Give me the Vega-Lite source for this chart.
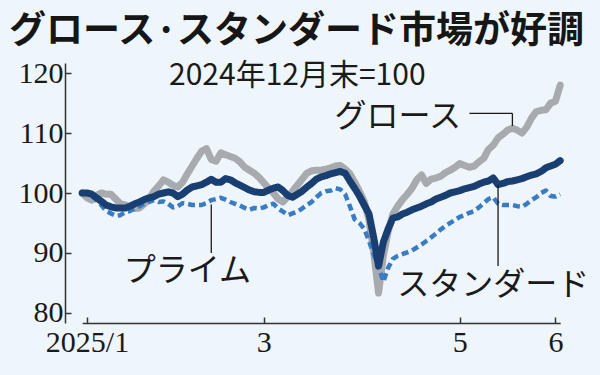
{
  "$schema": "https://vega.github.io/schema/vega-lite/v6.json",
  "width": 517,
  "height": 260,
  "autosize": {"type": "none"},
  "padding": {"left": 65, "top": 63, "right": 18, "bottom": 52},
  "background": "#eef5fb",
  "config": {"view": {"stroke": null}, "font": "Noto Sans CJK JP"},
  "title": {
    "text": "グロース·スタンダード市場が好調",
    "anchor": "start",
    "frame": "group",
    "dx": -56,
    "offset": 7,
    "font": "Noto Sans CJK JP",
    "fontSize": 37,
    "fontWeight": "bold",
    "color": "#161616"
  },
  "datasets": {
    "series": [
      {"date": "2024-12-30", "growth": 100, "prime": 100, "standard": 100},
      {"date": "2025-01-06", "growth": 99.2, "prime": 100, "standard": 100},
      {"date": "2025-01-07", "growth": 98.8, "prime": 99.5, "standard": 99.8},
      {"date": "2025-01-08", "growth": 99.6, "prime": 98.8, "standard": 99.2},
      {"date": "2025-01-09", "growth": 100, "prime": 98, "standard": 98.6},
      {"date": "2025-01-10", "growth": 99.8, "prime": 97, "standard": 98},
      {"date": "2025-01-14", "growth": 99.8, "prime": 96.6, "standard": 97.7},
      {"date": "2025-01-15", "growth": 99, "prime": 96.2, "standard": 97.5},
      {"date": "2025-01-16", "growth": 98.2, "prime": 96.3, "standard": 97.5},
      {"date": "2025-01-17", "growth": 98, "prime": 96.8, "standard": 97.5},
      {"date": "2025-01-20", "growth": 97.6, "prime": 97, "standard": 97.8},
      {"date": "2025-01-21", "growth": 97.4, "prime": 97.4, "standard": 98.2},
      {"date": "2025-01-22", "growth": 97.5, "prime": 97.8, "standard": 98.5},
      {"date": "2025-01-23", "growth": 98.2, "prime": 98.2, "standard": 98.9},
      {"date": "2025-01-24", "growth": 99, "prime": 98.5, "standard": 99.2},
      {"date": "2025-01-27", "growth": 100.3, "prime": 98.8, "standard": 99.4},
      {"date": "2025-01-28", "growth": 101.2, "prime": 98.5, "standard": 99.8},
      {"date": "2025-01-29", "growth": 102.2, "prime": 98.6, "standard": 100},
      {"date": "2025-01-30", "growth": 101.8, "prime": 98.2, "standard": 100.2},
      {"date": "2025-01-31", "growth": 101.3, "prime": 97.6, "standard": 100},
      {"date": "2025-02-03", "growth": 101, "prime": 97.8, "standard": 99.4},
      {"date": "2025-02-04", "growth": 101.8, "prime": 98.3, "standard": 99.8},
      {"date": "2025-02-05", "growth": 103.2, "prime": 98.2, "standard": 100.5},
      {"date": "2025-02-06", "growth": 104.5, "prime": 98, "standard": 101},
      {"date": "2025-02-07", "growth": 105.8, "prime": 98, "standard": 101.2},
      {"date": "2025-02-10", "growth": 107, "prime": 98, "standard": 101.4},
      {"date": "2025-02-12", "growth": 107.4, "prime": 98.3, "standard": 101.8},
      {"date": "2025-02-13", "growth": 105.6, "prime": 98.8, "standard": 102.3},
      {"date": "2025-02-14", "growth": 105.3, "prime": 99, "standard": 101.8},
      {"date": "2025-02-17", "growth": 106.7, "prime": 99.2, "standard": 101.8},
      {"date": "2025-02-18", "growth": 106.4, "prime": 98.9, "standard": 102.4},
      {"date": "2025-02-19", "growth": 106.1, "prime": 98.5, "standard": 102.2},
      {"date": "2025-02-20", "growth": 105.8, "prime": 98.2, "standard": 101.7},
      {"date": "2025-02-21", "growth": 105.2, "prime": 97.9, "standard": 101.3},
      {"date": "2025-02-25", "growth": 104.3, "prime": 97.5, "standard": 100.9},
      {"date": "2025-02-26", "growth": 103.8, "prime": 97.2, "standard": 100.5},
      {"date": "2025-02-27", "growth": 103.3, "prime": 97.5, "standard": 100.2},
      {"date": "2025-02-28", "growth": 102.6, "prime": 97.4, "standard": 100.1},
      {"date": "2025-03-03", "growth": 101.7, "prime": 97.6, "standard": 100.1},
      {"date": "2025-03-04", "growth": 100.8, "prime": 98, "standard": 100.5},
      {"date": "2025-03-05", "growth": 100, "prime": 98.2, "standard": 100.8},
      {"date": "2025-03-06", "growth": 99, "prime": 97.4, "standard": 101},
      {"date": "2025-03-07", "growth": 98.5, "prime": 96.9, "standard": 100.4},
      {"date": "2025-03-10", "growth": 99.4, "prime": 96.3, "standard": 99.6},
      {"date": "2025-03-11", "growth": 100.3, "prime": 96.6, "standard": 99.3},
      {"date": "2025-03-12", "growth": 101.3, "prime": 96.9, "standard": 99.8},
      {"date": "2025-03-13", "growth": 102.3, "prime": 97.4, "standard": 100.3},
      {"date": "2025-03-14", "growth": 103.3, "prime": 98, "standard": 101},
      {"date": "2025-03-17", "growth": 103.7, "prime": 98.5, "standard": 101.6},
      {"date": "2025-03-18", "growth": 103.8, "prime": 99.3, "standard": 102.3},
      {"date": "2025-03-19", "growth": 103.8, "prime": 100, "standard": 102.7},
      {"date": "2025-03-21", "growth": 104, "prime": 100.3, "standard": 102.9},
      {"date": "2025-03-24", "growth": 104.2, "prime": 100.4, "standard": 103.2},
      {"date": "2025-03-25", "growth": 104.5, "prime": 100.8, "standard": 103.4},
      {"date": "2025-03-26", "growth": 104.6, "prime": 100.6, "standard": 103.6},
      {"date": "2025-03-27", "growth": 104, "prime": 99.8, "standard": 103.3},
      {"date": "2025-03-28", "growth": 103.2, "prime": 97.8, "standard": 102},
      {"date": "2025-03-31", "growth": 101.8, "prime": 95.6, "standard": 100.8},
      {"date": "2025-04-01", "growth": 100.3, "prime": 95, "standard": 99.5},
      {"date": "2025-04-02", "growth": 98.6, "prime": 94, "standard": 98},
      {"date": "2025-04-03", "growth": 95.5, "prime": 92, "standard": 96.5},
      {"date": "2025-04-04", "growth": 90, "prime": 89.7, "standard": 92.5},
      {"date": "2025-04-07", "growth": 83.3, "prime": 87.8, "standard": 87.8},
      {"date": "2025-04-08", "growth": 89.5, "prime": 85.2, "standard": 91.8},
      {"date": "2025-04-09", "growth": 93.5, "prime": 87.5, "standard": 94},
      {"date": "2025-04-10", "growth": 96.5, "prime": 89, "standard": 95.8},
      {"date": "2025-04-11", "growth": 97.8, "prime": 89.5, "standard": 96},
      {"date": "2025-04-14", "growth": 98.9, "prime": 89.8, "standard": 96.5},
      {"date": "2025-04-15", "growth": 99.8, "prime": 90.1, "standard": 96.8},
      {"date": "2025-04-16", "growth": 100.8, "prime": 90.4, "standard": 97.2},
      {"date": "2025-04-17", "growth": 102.2, "prime": 90.9, "standard": 97.5},
      {"date": "2025-04-18", "growth": 103, "prime": 91.4, "standard": 97.8},
      {"date": "2025-04-21", "growth": 101.6, "prime": 92, "standard": 98.2},
      {"date": "2025-04-22", "growth": 102.3, "prime": 92.6, "standard": 98.5},
      {"date": "2025-04-23", "growth": 102.5, "prime": 93.2, "standard": 99},
      {"date": "2025-04-24", "growth": 102.8, "prime": 93.9, "standard": 99.3},
      {"date": "2025-04-25", "growth": 103.4, "prime": 94.5, "standard": 99.6},
      {"date": "2025-04-28", "growth": 103.8, "prime": 95, "standard": 100},
      {"date": "2025-04-30", "growth": 104.3, "prime": 95.5, "standard": 100.2},
      {"date": "2025-05-01", "growth": 104.9, "prime": 96, "standard": 100.4},
      {"date": "2025-05-02", "growth": 104.6, "prime": 96.3, "standard": 100.7},
      {"date": "2025-05-07", "growth": 104.3, "prime": 96.7, "standard": 100.9},
      {"date": "2025-05-08", "growth": 104.5, "prime": 97, "standard": 101.1},
      {"date": "2025-05-09", "growth": 105.2, "prime": 97.6, "standard": 101.5},
      {"date": "2025-05-12", "growth": 105.8, "prime": 98.3, "standard": 101.8},
      {"date": "2025-05-13", "growth": 107.3, "prime": 99, "standard": 102},
      {"date": "2025-05-14", "growth": 108, "prime": 99.3, "standard": 102.5},
      {"date": "2025-05-15", "growth": 109.2, "prime": 98.2, "standard": 101.4},
      {"date": "2025-05-16", "growth": 109.8, "prime": 98, "standard": 101.6},
      {"date": "2025-05-19", "growth": 110.5, "prime": 98, "standard": 101.9},
      {"date": "2025-05-20", "growth": 110.8, "prime": 98, "standard": 102},
      {"date": "2025-05-21", "growth": 110.5, "prime": 97.8, "standard": 102.2},
      {"date": "2025-05-22", "growth": 110, "prime": 97.7, "standard": 102.4},
      {"date": "2025-05-23", "growth": 111, "prime": 98.2, "standard": 102.7},
      {"date": "2025-05-26", "growth": 112.5, "prime": 98.8, "standard": 103},
      {"date": "2025-05-27", "growth": 113.6, "prime": 99.3, "standard": 103.2},
      {"date": "2025-05-28", "growth": 113.8, "prime": 100, "standard": 103.6},
      {"date": "2025-05-29", "growth": 113.9, "prime": 100.4, "standard": 104.2},
      {"date": "2025-05-30", "growth": 115, "prime": 99.5, "standard": 104.5},
      {"date": "2025-06-02", "growth": 115.3, "prime": 99.4, "standard": 104.8},
      {"date": "2025-06-03", "growth": 118, "prime": 99.8, "standard": 105.4}
    ],
    "leaders": [
      {"x": "2025-05-07", "x2": "2025-05-20", "y": 113.3, "y2": 113.3},
      {"x": "2025-05-20", "x2": "2025-05-20", "y": 113.3, "y2": 111.2},
      {"x": "2025-02-13", "x2": "2025-02-13", "y": 98.1, "y2": 90},
      {"x": "2025-05-15", "x2": "2025-05-15", "y": 101.3, "y2": 87.8}
    ],
    "labels": [
      {"date": "2025-04-11", "value": 112.7, "text": "グロース"},
      {"date": "2025-02-05", "value": 87.0, "text": "プライム"},
      {"date": "2025-05-14", "value": 84.7, "text": "スタンダード"}
    ],
    "subtitle": [
      {"date": "2025-03-12", "value": 119.5, "text": "2024年12月末=100"}
    ]
  },
  "data": {"name": "series"},
  "encoding": {
    "x": {
      "field": "date",
      "type": "ordinal",
      "scale": {
        "type": "point",
        "padding": 0,
        "range": [17.2, 495.2],
        "domain": ["2024-12-30","2025-01-06","2025-01-07","2025-01-08","2025-01-09","2025-01-10","2025-01-14","2025-01-15","2025-01-16","2025-01-17","2025-01-20","2025-01-21","2025-01-22","2025-01-23","2025-01-24","2025-01-27","2025-01-28","2025-01-29","2025-01-30","2025-01-31","2025-02-03","2025-02-04","2025-02-05","2025-02-06","2025-02-07","2025-02-10","2025-02-12","2025-02-13","2025-02-14","2025-02-17","2025-02-18","2025-02-19","2025-02-20","2025-02-21","2025-02-25","2025-02-26","2025-02-27","2025-02-28","2025-03-03","2025-03-04","2025-03-05","2025-03-06","2025-03-07","2025-03-10","2025-03-11","2025-03-12","2025-03-13","2025-03-14","2025-03-17","2025-03-18","2025-03-19","2025-03-21","2025-03-24","2025-03-25","2025-03-26","2025-03-27","2025-03-28","2025-03-31","2025-04-01","2025-04-02","2025-04-03","2025-04-04","2025-04-07","2025-04-08","2025-04-09","2025-04-10","2025-04-11","2025-04-14","2025-04-15","2025-04-16","2025-04-17","2025-04-18","2025-04-21","2025-04-22","2025-04-23","2025-04-24","2025-04-25","2025-04-28","2025-04-30","2025-05-01","2025-05-02","2025-05-07","2025-05-08","2025-05-09","2025-05-12","2025-05-13","2025-05-14","2025-05-15","2025-05-16","2025-05-19","2025-05-20","2025-05-21","2025-05-22","2025-05-23","2025-05-26","2025-05-27","2025-05-28","2025-05-29","2025-05-30","2025-06-02","2025-06-03"]
      },
      "axis": {
        "title": null,
        "values": ["2025-01-06", "2025-03-03", "2025-05-01", "2025-06-02"],
        "labelExpr": "datum.value == '2025-01-06' ? '2025/1' : datum.value == '2025-03-03' ? '3' : datum.value == '2025-05-01' ? '5' : '6'",
        "labelAngle": 0,
        "labelFont": "Liberation Sans Narrow",
        "labelFontSize": 30,
        "labelColor": "#1a1a1a",
        "labelPadding": 10,
        "domainColor": "#333333",
        "domainWidth": 1.5,
        "tickColor": "#333333",
        "tickWidth": 1.5,
        "tickSize": -6,
        "grid": false
      }
    }
  },
  "layer": [
    {
      "mark": {"type": "line", "color": "#a7aaae", "strokeWidth": 7, "strokeCap": "round", "strokeJoin": "round"},
      "encoding": {
        "y": {
          "field": "growth",
          "type": "quantitative",
          "scale": {"domain": [78.3, 121.7], "nice": false, "zero": false},
          "axis": {
            "title": null,
            "values": [80, 90, 100, 110, 120],
            "labelFont": "Liberation Sans Narrow",
            "labelFontSize": 30,
            "labelColor": "#1a1a1a",
            "labelPadding": 8,
            "domainColor": "#333333",
            "domainWidth": 1.5,
            "tickColor": "#333333",
            "tickWidth": 1.5,
            "tickSize": -6,
            "grid": false
          }
        }
      }
    },
    {
      "mark": {"type": "line", "color": "#3a7cc3", "strokeWidth": 4.5, "strokeDash": [7, 4], "strokeCap": "butt", "strokeJoin": "round"},
      "encoding": {"y": {"field": "prime", "type": "quantitative"}}
    },
    {
      "mark": {"type": "line", "color": "#183e72", "strokeWidth": 7, "strokeCap": "round", "strokeJoin": "round"},
      "encoding": {"y": {"field": "standard", "type": "quantitative"}}
    },
    {
      "data": {"name": "leaders"},
      "mark": {"type": "rule", "color": "#1a1a1a", "strokeWidth": 1.3},
      "encoding": {
        "x": {"field": "x", "type": "ordinal"},
        "x2": {"field": "x2"},
        "y": {"field": "y", "type": "quantitative"},
        "y2": {"field": "y2"}
      }
    },
    {
      "data": {"name": "labels"},
      "mark": {"type": "text", "font": "Noto Sans CJK JP", "fontSize": 32, "color": "#1a1a1a", "baseline": "middle", "align": "center"},
      "encoding": {
        "x": {"field": "date", "type": "ordinal"},
        "y": {"field": "value", "type": "quantitative"},
        "text": {"field": "text"}
      }
    },
    {
      "data": {"name": "subtitle"},
      "mark": {"type": "text", "font": "Noto Sans CJK JP", "fontSize": 30, "color": "#1a1a1a", "baseline": "middle"},
      "encoding": {
        "x": {"field": "date", "type": "ordinal"},
        "y": {"field": "value", "type": "quantitative"},
        "text": {"field": "text"}
      }
    }
  ]
}
